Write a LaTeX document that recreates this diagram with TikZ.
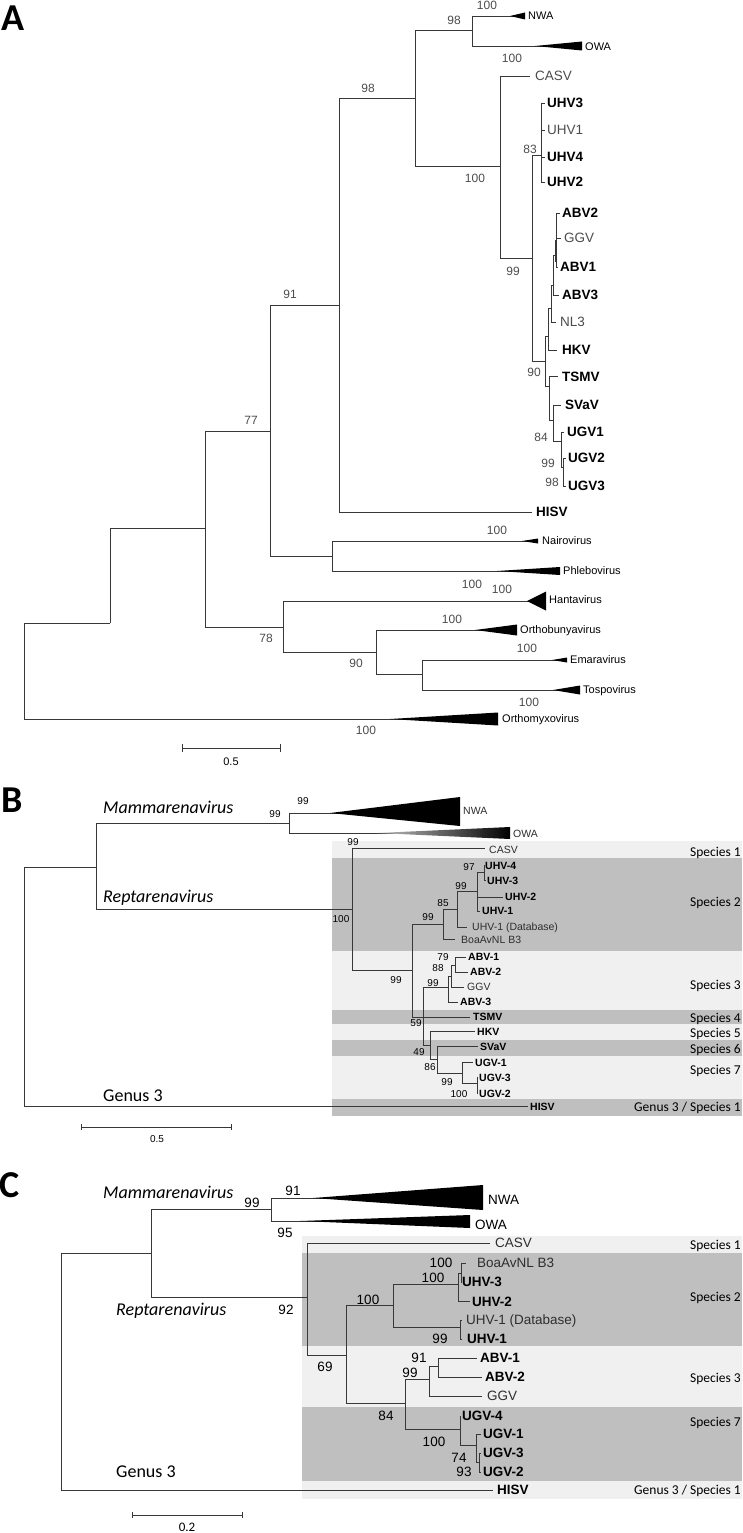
\documentclass[tikz,border=0pt]{standalone}
\usepackage{fontspec}
\setmainfont{Liberation Sans}
\newfontfamily\carl{Carlito}
\definecolor{lg}{gray}{0.94}
\definecolor{dg}{gray}{0.75}
\definecolor{ln}{gray}{0.22}
\definecolor{tx}{gray}{0.3}
\definecolor{tx2}{gray}{0.18}
\tikzset{
  br/.style={draw=ln, line width=0.8pt},
  ta/.style={inner sep=0pt, anchor=west, text height=9.7pt, text depth=0pt, text=tx, font=\fontsize{13.5}{14}\selectfont},
  tab/.style={ta, text=black, font=\fontsize{13.5}{14}\selectfont\bfseries},
  ga/.style={inner sep=0pt, anchor=west, text height=7.9pt, text depth=0pt, font=\fontsize{11}{12}\selectfont},
  ba/.style={inner sep=0pt, text height=8.6pt, text depth=0pt, text=tx, font=\fontsize{12}{12}\selectfont},
  tb/.style={inner sep=0pt, anchor=west, text height=7.6pt, text depth=0pt, text=tx2, font=\fontsize{10.5}{11}\selectfont},
  tbb/.style={tb, text=black, font=\fontsize{10.5}{11}\selectfont\bfseries},
  bb/.style={inner sep=0pt, text height=7.2pt, text depth=0pt, font=\fontsize{10}{10}\selectfont},
  bc/.style={inner sep=0pt, text height=9.7pt, text depth=0pt, font=\fontsize{13.5}{14}\selectfont},
  sp/.style={inner sep=0pt, anchor=east, text height=8.7pt, text depth=0pt, font=\carl\fontsize{13.5}{14}\selectfont},
  gen/.style={inner sep=0pt, anchor=west, text height=11.6pt, text depth=0pt, font=\carl\fontsize{18}{20}\selectfont},
  geni/.style={gen, font=\carl\itshape\fontsize{18}{20}\selectfont},
  pl/.style={inner sep=0pt, text height=24.5pt, text depth=0pt, font=\carl\bfseries\fontsize{38}{40}\selectfont},
}
\begin{document}
\begin{tikzpicture}[x=1pt,y=-1pt]
\useasboundingbox (0,0) rectangle (742,1533);
% ---------------- bands B ----------------
\fill[lg] (332,841) rectangle (742,858);
\fill[dg] (332,858) rectangle (742,951);
\fill[lg] (332,951) rectangle (742,1010);
\fill[dg] (332,1010) rectangle (742,1024);
\fill[lg] (332,1024) rectangle (742,1040);
\fill[dg] (332,1040) rectangle (742,1056);
\fill[lg] (332,1056) rectangle (742,1099);
\fill[dg] (332,1099) rectangle (742,1116);
% ---------------- bands C ----------------
\fill[lg] (302,1236) rectangle (742,1253);
\fill[dg] (302,1253) rectangle (742,1346);
\fill[lg] (302,1346) rectangle (742,1407);
\fill[dg] (302,1407) rectangle (742,1481);
\fill[lg] (302,1481) rectangle (742,1499);

% ================= PANEL A =================
\node[pl] (pA) at (13,18) {A};
\draw[br] (472,16) -- (472,46);
\draw[br] (472,16) -- (520,16);
\fill (510,16) -- (525,12.5) -- (525,19.5) -- cycle;
\draw[br] (472,46) -- (570,46);
\fill (535,46) -- (582,41.5) -- (582,50.5) -- cycle;
\draw[br] (415,30) -- (472,30);
\draw[br] (415,30) -- (415,166);
\draw[br] (339,98) -- (415,98);
\draw[br] (415,166) -- (500,166);
\draw[br] (500,76) -- (500,258);
\draw[br] (500,76) -- (530,76);
\draw[br] (500,258) -- (532,258);
\draw[br] (532,155) -- (532,361);
\draw[br] (532,155) -- (541,155);
\draw[br] (541,103) -- (541,182);
\foreach \yy in {103,130,157,182} \draw[br] (541,\yy) -- (545,\yy);
\draw[br] (532,361) -- (545,361);
\draw[br] (545,336) -- (545,386);
\draw[br] (545,336) -- (548,336) (548,308) -- (548,350) (548,350) -- (557,350);
\draw[br] (548,308) -- (551,308) (551,285) -- (551,322) (551,322) -- (556,322);
\draw[br] (551,285) -- (553,285) (553,255) -- (553,295) (553,295) -- (559,295);
\draw[br] (553,255) -- (556,255) (556,213) -- (556,267);
\draw[br] (556,213) -- (560,213) (556,238) -- (561,238) (556,267) -- (558,267);
\draw[draw=ln, line width=1.8pt] (556,240) -- (556,262);
\draw[br] (545,386) -- (549,386) (549,376) -- (549,420) (549,376) -- (558,376);
\draw[br] (549,420) -- (553,420) (553,405) -- (553,441) (553,405) -- (561,405);
\draw[br] (553,441) -- (561,441) (561,432) -- (561,467) (561,432) -- (564,432);
\draw[br] (561,467) -- (563,467) (563,458) -- (563,486) (563,458) -- (566,458) (563,486) -- (566,486);
\draw[br] (339,98) -- (339,512);
\draw[br] (339,512) -- (532,512);
\draw[br] (270,305) -- (339,305);
\draw[br] (270,305) -- (270,556);
\draw[br] (205,431) -- (270,431);
\draw[br] (270,556) -- (332,556);
\draw[br] (332,541) -- (332,571);
\draw[br] (332,541) -- (532,541);
\fill (522,541) -- (538,538.5) -- (538,543.5) -- cycle;
\draw[br] (332,571) -- (540,571);
\fill (497,571) -- (560,567) -- (560,575) -- cycle;
\draw[br] (205,431) -- (205,627);
\draw[br] (110,528) -- (205,528);
\draw[br] (205,627) -- (283,627);
\draw[br] (283,601) -- (283,652);
\draw[br] (283,601) -- (540,601);
\fill (527,601) -- (546,591.5) -- (546,610.5) -- cycle;
\draw[br] (283,652) -- (376,652);
\draw[br] (376,630) -- (376,674);
\draw[br] (376,630) -- (505,630);
\fill (475,630) -- (517,624.5) -- (517,635.5) -- cycle;
\draw[br] (376,674) -- (422,674);
\draw[br] (422,660) -- (422,690);
\draw[br] (422,660) -- (562,660);
\fill (552,660) -- (567,657.5) -- (567,662.5) -- cycle;
\draw[br] (422,690) -- (570,690);
\fill (553,690) -- (580,685.5) -- (580,694.5) -- cycle;
\draw[br] (110,528) -- (110,623);
\draw[br] (24,623) -- (110,623);
\draw[br] (24,623) -- (24,719);
\draw[br] (24,719) -- (470,719);
\fill (390,719) -- (498,712.5) -- (498,725.5) -- cycle;
% A tip labels
\node[ga] (aNWA) at (528,16) {NWA};
\node[ga] (aOWA) at (585,47) {OWA};
\node[ta] (aCASV) at (535,76) {CASV};
\node[tab] (aUHV3) at (547,103) {UHV3};
\node[ta] (aUHV1) at (547,130) {UHV1};
\node[tab] (aUHV4) at (547,157) {UHV4};
\node[tab] (aUHV2) at (547,182) {UHV2};
\node[tab] (aABV2) at (562,213) {ABV2};
\node[ta] (aGGV) at (564,238) {GGV};
\node[tab] (aABV1) at (560,267) {ABV1};
\node[tab] (aABV3) at (562,295) {ABV3};
\node[ta] (aNL3) at (560,322) {NL3};
\node[tab] (aHKV) at (562,350) {HKV};
\node[tab] (aTSMV) at (562,377) {TSMV};
\node[tab] (aSVaV) at (565,405) {SVaV};
\node[tab] (aUGV1) at (567,432) {UGV1};
\node[tab] (aUGV2) at (568,458) {UGV2};
\node[tab] (aUGV3) at (568,486) {UGV3};
\node[tab] (aHISV) at (536,512) {HISV};
\node[ga] (aNai) at (542,541) {Nairovirus};
\node[ga] (aPhl) at (563,571) {Phlebovirus};
\node[ga] (aHan) at (549,600) {Hantavirus};
\node[ga] (aOrb) at (520,630) {Orthobunyavirus};
\node[ga] (aEma) at (570,660) {Emaravirus};
\node[ga] (aTos) at (583,690) {Tospovirus};
\node[ga] (aOmx) at (502,719) {Orthomyxovirus};
% A bootstrap
\node[ba] (a1) at (487,5) {100};
\node[ba] (a2) at (454,20) {98};
\node[ba] (a3) at (512,58) {100};
\node[ba] (a4) at (368,88) {98};
\node[ba] (a5) at (475,178) {100};
\node[ba] (a6) at (530,149) {83};
\node[ba] (a7) at (513,271) {99};
\node[ba] (a8) at (534,372) {90};
\node[ba] (a9) at (541,437) {84};
\node[ba] (a10) at (548,463) {99};
\node[ba] (a11) at (552,482) {98};
\node[ba] (a12) at (290,294) {91};
\node[ba] (a13) at (251,420) {77};
\node[ba] (a14) at (497,530) {100};
\node[ba] (a15) at (472,584) {100};
\node[ba] (a16) at (502,589) {100};
\node[ba] (a17) at (266,638) {78};
\node[ba] (a18) at (452,619) {100};
\node[ba] (a19) at (356,663) {90};
\node[ba] (a20) at (527,648) {100};
\node[ba] (a21) at (529,702) {100};
\node[ba] (a22) at (366,730) {100};
% A scale
\draw[br] (182,748) -- (280,748) (182,744) -- (182,752) (280,744) -- (280,752);
\node[bb, font=\fontsize{11}{11}\selectfont] (aS) at (231,762) {0.5};

% ================= PANEL B =================
\node[pl] (pB) at (12,800) {B};
\node[geni] (mB) at (103,808) {Mammarenavirus};
\node[geni] (rB) at (103,897) {Reptarenavirus};
\node[gen] (gB) at (103,1096) {Genus 3};
\draw[br] (24,867) -- (24,1106) (24,867) -- (96,867);
\draw[br] (96,823) -- (96,909) (96,823) -- (289,823);
\draw[br] (289,813) -- (289,833) (289,813) -- (340,813) (289,833) -- (400,833);
\fill (330,813) -- (460,797) -- (460,826) -- cycle;
\shade[left color=black!25, right color=black] (377,833) -- (510,827) -- (510,839) -- cycle;
\draw[br] (96,909) -- (352,909);
\draw[br] (352,848) -- (352,970) (352,848) -- (485,848) (352,970) -- (412,970);
\draw[br] (412,924) -- (412,1017) (412,924) -- (443,924) (412,1017) -- (470,1017);
\draw[br] (443,909) -- (443,939) (443,939) -- (455,939) (443,909) -- (457,909);
\draw[br] (457,891) -- (457,927) (457,927) -- (467,927) (457,891) -- (477,891);
\draw[br] (477,872) -- (477,911) (477,897) -- (503,897) (477,911) -- (480,911) (477,872) -- (484,872);
\draw[br] (484,865) -- (484,880) (484,865) -- (485,865) (484,880) -- (486,880);
\draw[br] (423,987) -- (423,1045) (423,987) -- (448,987);
\draw[br] (448,976) -- (448,1002) (448,1002) -- (458,1002) (448,976) -- (451,976);
\draw[br] (451,965) -- (451,987) (451,987) -- (464,987) (451,965) -- (455,965);
\draw[br] (455,957) -- (455,972) (455,957) -- (466,957) (455,972) -- (468,972);
\draw[br] (423,1045) -- (430,1045) (430,1031) -- (430,1059) (430,1031) -- (475,1031);
\draw[br] (430,1059) -- (437,1059) (437,1046) -- (437,1073) (437,1046) -- (478,1046);
\draw[br] (437,1073) -- (462,1073) (462,1062) -- (462,1083) (462,1062) -- (473,1062);
\draw[br] (462,1083) -- (477,1083) (477,1077) -- (477,1093) (477,1077) -- (478,1077) (477,1093) -- (478,1093);
\draw[br] (24,1106) -- (528,1106);
% B tips
\node[tb] (bNWA) at (463,811) {NWA};
\node[tb] (bOWA) at (513,834) {OWA};
\node[tb] (bCASV) at (489,850) {CASV};
\node[tbb] (bU4) at (485,866) {UHV-4};
\node[tbb] (bU3) at (487,881) {UHV-3};
\node[tbb] (bU2) at (505,897) {UHV-2};
\node[tbb] (bU1) at (482,911) {UHV-1};
\node[tb] (bU1d) at (472,927) {UHV-1 (Database)};
\node[tb] (bBoa) at (461,940) {BoaAvNL B3};
\node[tbb] (bA1) at (468,957) {ABV-1};
\node[tbb] (bA2) at (470,972) {ABV-2};
\node[tb] (bGGV) at (467,987) {GGV};
\node[tbb] (bA3) at (460,1002) {ABV-3};
\node[tbb] (bTS) at (473,1017) {TSMV};
\node[tbb] (bHK) at (477,1032) {HKV};
\node[tbb] (bSV) at (480,1047) {SVaV};
\node[tbb] (bG1) at (475,1063) {UGV-1};
\node[tbb] (bG3) at (479,1078) {UGV-3};
\node[tbb] (bG2) at (479,1094) {UGV-2};
\node[tbb] (bHI) at (530,1107) {HISV};
% B bootstrap
\node[bb] (b1) at (303,801) {99};
\node[bb] (b2) at (275,814) {99};
\node[bb] (b3) at (341,919) {100};
\node[bb] (b4) at (353,842) {99};
\node[bb] (b5) at (396,980) {99};
\node[bb] (b6) at (428,917) {99};
\node[bb] (b7) at (443,903) {85};
\node[bb] (b8) at (461,886) {99};
\node[bb] (b9) at (469,867) {97};
\node[bb] (b10) at (443,957) {79};
\node[bb] (b11) at (438,968) {88};
\node[bb] (b12) at (433,983) {99};
\node[bb] (b13) at (416,1023) {59};
\node[bb] (b14) at (419,1052) {49};
\node[bb] (b15) at (430,1067) {86};
\node[bb] (b16) at (447,1082) {99};
\node[bb] (b17) at (459,1094) {100};
% B species
\node[sp] (bs1) at (741,852) {Species 1};
\node[sp] (bs2) at (741,902) {Species 2};
\node[sp] (bs3) at (741,985) {Species 3};
\node[sp] (bs4) at (741,1018) {Species 4};
\node[sp] (bs5) at (741,1033) {Species 5};
\node[sp] (bs6) at (741,1049) {Species 6};
\node[sp] (bs7) at (741,1070) {Species 7};
\node[sp] (bs8) at (741,1107) {Genus 3 / Species 1};
% B scale
\draw[br] (81,1127) -- (231,1127) (81,1124) -- (81,1130) (231,1124) -- (231,1130);
\node[bb] (bS) at (157,1139) {0.5};

% ================= PANEL C =================
\node[pl] (pC) at (10,1185) {C};
\node[geni] (mC) at (103,1193) {Mammarenavirus};
\node[geni] (rC) at (116,1310) {Reptarenavirus};
\node[gen] (gC) at (116,1472) {Genus 3};
\draw[br] (61,1253) -- (61,1490) (61,1253) -- (151,1253) (61,1490) -- (493,1490);
\draw[br] (151,1209) -- (151,1297) (151,1209) -- (271,1209) (151,1297) -- (307,1297);
\draw[br] (271,1198) -- (271,1221) (271,1198) -- (330,1198) (271,1221) -- (320,1221);
\fill (313,1198) -- (483,1185) -- (483,1210) -- cycle;
\fill (300,1221) -- (470,1215) -- (470,1228) -- cycle;
\draw[br] (307,1243) -- (307,1355) (307,1243) -- (490,1243) (307,1355) -- (346,1355);
\draw[br] (346,1305) -- (346,1403) (346,1305) -- (393,1305) (346,1403) -- (405,1403);
\draw[br] (393,1284) -- (393,1327) (393,1284) -- (458,1284) (393,1327) -- (460,1327);
\draw[br] (458,1273) -- (458,1301) (458,1273) -- (461,1273) (458,1301) -- (470,1301);
\draw[br] (461,1263) -- (461,1282) (461,1263) -- (466,1263) (461,1282) -- (462,1282);
\draw[br] (460,1320) -- (460,1339) (460,1320) -- (462,1320) (460,1339) -- (462,1339);
\draw[br] (405,1379) -- (405,1429) (405,1379) -- (429,1379) (405,1429) -- (460,1429);
\draw[br] (429,1366) -- (429,1396) (429,1366) -- (438,1366) (429,1396) -- (482,1396);
\draw[br] (438,1358) -- (438,1377) (438,1358) -- (477,1358) (438,1377) -- (482,1377);
\draw[br] (460,1416) -- (460,1445) (460,1445) -- (476,1445);
\draw[br] (476,1434) -- (476,1462) (476,1434) -- (481,1434) (476,1462) -- (479,1462);
\draw[br] (479,1453) -- (479,1472) (479,1453) -- (481,1453) (479,1472) -- (481,1472);
% C tips
\node[ta, text=black] (cNWA) at (488,1200) {NWA};
\node[ta, text=black] (cOWA) at (475,1225) {OWA};
\node[ta, text=tx2] (cCASV) at (495,1243) {CASV};
\node[ta, text=tx2] (cBoa) at (477,1263) {BoaAvNL B3};
\node[tab] (cU3) at (462,1282) {UHV-3};
\node[tab] (cU2) at (472,1302) {UHV-2};
\node[ta, text=tx2] (cU1d) at (466,1320) {UHV-1 (Database)};
\node[tab] (cU1) at (467,1339) {UHV-1};
\node[tab] (cA1) at (480,1358) {ABV-1};
\node[tab] (cA2) at (485,1377) {ABV-2};
\node[ta, text=tx2] (cGGV) at (487,1396) {GGV};
\node[tab] (cG4) at (462,1416) {UGV-4};
\node[tab] (cG1) at (483,1434) {UGV-1};
\node[tab] (cG3) at (483,1453) {UGV-3};
\node[tab] (cG2) at (483,1472) {UGV-2};
\node[tab] (cHI) at (497,1490) {HISV};
% C bootstrap
\node[bc] (c1) at (293,1191) {91};
\node[bc] (c2) at (285,1233) {95};
\node[bc] (c3) at (252,1203) {99};
\node[bc] (c4) at (286,1310) {92};
\node[bc] (c5) at (325,1367) {69};
\node[bc] (c6) at (368,1300) {100};
\node[bc] (c7) at (441,1263) {100};
\node[bc] (c8) at (433,1278) {100};
\node[bc] (c9) at (440,1339) {99};
\node[bc] (c10) at (419,1358) {91};
\node[bc] (c11) at (410,1373) {99};
\node[bc] (c12) at (386,1416) {84};
\node[bc] (c13) at (434,1442) {100};
\node[bc] (c14) at (459,1458) {74};
\node[bc] (c15) at (464,1472) {93};
% C species
\node[sp] (cs1) at (741,1245) {Species 1};
\node[sp] (cs2) at (741,1297) {Species 2};
\node[sp] (cs3) at (741,1378) {Species 3};
\node[sp] (cs7) at (741,1422) {Species 7};
\node[sp] (cs8) at (741,1490) {Genus 3 / Species 1};
% C scale
\draw[br] (132,1515) -- (242,1515) (132,1512) -- (132,1518) (242,1512) -- (242,1518);
\node[inner sep=0pt, text height=8.4pt, text depth=0pt, font=\carl\fontsize{13}{13}\selectfont] (cS) at (187,1527) {0.2};
\end{tikzpicture}
\end{document}
